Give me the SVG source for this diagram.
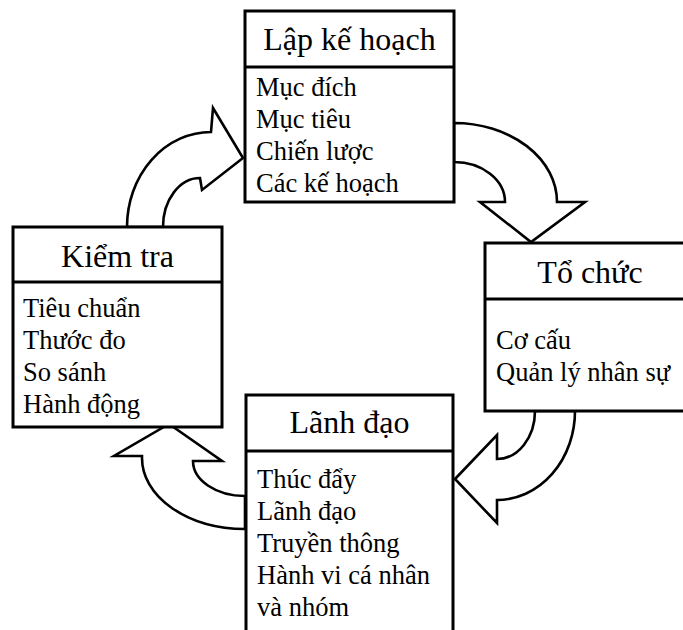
<svg xmlns="http://www.w3.org/2000/svg" width="683" height="630" viewBox="0 0 683 630">
<style>
.box{fill:#fff;stroke:#000;stroke-width:3}
.div{stroke:#000;stroke-width:3}
.arr{fill:#fff;stroke:#000;stroke-width:2.6;stroke-linejoin:miter}
.t{font-family:"Liberation Serif","Times New Roman",serif;font-size:32px;fill:#000;text-anchor:middle}
.b{font-family:"Liberation Serif","Times New Roman",serif;font-size:26.5px;fill:#000}
</style>
<rect width="683" height="630" fill="#fff"/>
<g id="connectors">
<path class="arr" d="M127 227 A84 95 0 0 1 211 132 L213 108 L243 158 L202 190 L200 178 A37 49 0 0 0 163 227 Z"/>
<path class="arr" d="M454 123 A103 79 0 0 1 557 202 L585 202 L531 242 L480 202 L505 202 A51 40 0 0 0 454 162 Z"/>
<path class="arr" d="M455 479 L497 435 L497 459 A38 48 0 0 0 535 411 L575 411 A78 89 0 0 1 497 500 L497 523 Z"/>
<path class="arr" d="M169 424 L222 461 L193 461 A52 35 0 0 0 245 496 L245 529 A103 71 0 0 1 142 458 L142 456 L114 456 Z"/>
</g>
<g id="lap-ke-hoach">
<rect class="box" x="245" y="11" width="209" height="191"/>
<line class="div" x1="245" y1="67" x2="454" y2="67"/>
<text class="t" x="349.5" y="50">Lập kế hoạch</text>
<text class="b" x="256" y="96">Mục đích</text>
<text class="b" x="256" y="128">Mục tiêu</text>
<text class="b" x="256" y="160">Chiến lược</text>
<text class="b" x="256" y="192">Các kế hoạch</text>
</g>
<g id="kiem-tra">
<rect class="box" x="13" y="227" width="209" height="200"/>
<line class="div" x1="13" y1="282" x2="222" y2="282"/>
<text class="t" x="117.5" y="267">Kiểm tra</text>
<text class="b" x="23" y="317">Tiêu chuẩn</text>
<text class="b" x="23" y="349">Thước đo</text>
<text class="b" x="23" y="381">So sánh</text>
<text class="b" x="23" y="413">Hành động</text>
</g>
<g id="to-chuc">
<rect class="box" x="485" y="243" width="210" height="168"/>
<line class="div" x1="485" y1="299" x2="695" y2="299"/>
<text class="t" x="590" y="283">Tổ chức</text>
<text class="b" x="496" y="349">Cơ cấu</text>
<text class="b" x="496" y="381">Quản lý nhân sự</text>
</g>
<g id="lanh-dao">
<rect class="box" x="246" y="395" width="207" height="245"/>
<line class="div" x1="246" y1="451" x2="453" y2="451"/>
<text class="t" x="349.5" y="433">Lãnh đạo</text>
<text class="b" x="257" y="488">Thúc đẩy</text>
<text class="b" x="257" y="520">Lãnh đạo</text>
<text class="b" x="257" y="552">Truyền thông</text>
<text class="b" x="257" y="584">Hành vi cá nhân</text>
<text class="b" x="257" y="616">và nhóm</text>
</g>
</svg>
